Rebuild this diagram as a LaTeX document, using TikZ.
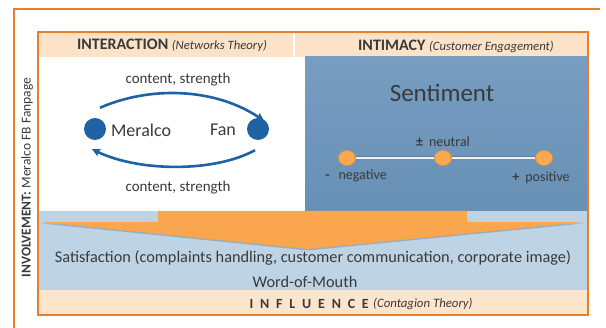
\documentclass[tikz,border=0pt]{standalone}
\usepackage{fontspec}
\setmainfont{Carlito}
\usetikzlibrary{arrows.meta,shapes.geometric}

\definecolor{frameorange}{HTML}{E67E2A}
\definecolor{headpeach}{HTML}{FCE3C7}
\definecolor{infpeach}{HTML}{FDE5CC}
\definecolor{paneltop}{HTML}{779EC1}
\definecolor{panelbottom}{HTML}{6890B5}
\definecolor{paleblue}{HTML}{BED4E4}
\definecolor{funnel}{HTML}{F9A64F}
\definecolor{dotfill}{HTML}{F9A94F}
\definecolor{dotedge}{HTML}{E8923A}
\definecolor{navy}{HTML}{1F62A4}
\definecolor{ink}{HTML}{3A3A3A}
\definecolor{railshade}{HTML}{5A7F9F}

\newcommand\fsz[1]{\fontsize{#1}{#1}\selectfont}

\begin{document}
\begin{tikzpicture}[x=1pt,y=-1pt,
  label/.style={text=ink,inner sep=0pt,anchor=center},
  member/.style={circle,fill=navy,minimum size=22pt,inner sep=0pt},
  flow/.style={navy,line width=2.6pt,-{Stealth[length=8pt,width=8pt,inset=1.5pt]}},
  knob/.style={ellipse,fill=dotfill,draw=dotedge,line width=0.6pt,minimum width=17pt,minimum height=15pt,inner sep=0pt},
  frame/.style={frameorange,line width=2.5pt}]

\useasboundingbox (0,0) rectangle (606,328);
\fill[white] (0,0) rectangle (606,328);

% open outer frame
\draw[frame,line width=2.3pt] (14,328) -- (14,9) -- (600,9);

% header cells
\fill[headpeach] (38,32) rectangle (293,57);
\fill[headpeach] (295,32) rectangle (588,57);

% sentiment panel
\shade[top color=paneltop,bottom color=panelbottom] (305,57) rectangle (588,211);

% lower bands
\fill[paleblue] (38,211) rectangle (588,290);
\fill[infpeach] (38,290) rectangle (588,315);

% funnel arrow with a soft shadow
\fill[black,opacity=0.18] (42,223.5) -- (583,223.5) -- (308,250.5) -- cycle;
\fill[funnel] (158,211) -- (467,211) -- (467,222) -- (583,222) -- (308,249)
  -- (42,222) -- (158,222) -- cycle;

% inner frame
\draw[frame] (38,32) rectangle (588,315);

% header titles
\node[label] (hint) at (172,45) {\fsz{16}\bfseries INTERACTION \fsz{12.7}\mdseries\itshape (Networks Theory)};
\node[label] (hintim) at (456,46) {\fsz{16}\bfseries INTIMACY \fsz{12.7}\mdseries\itshape (Customer Engagement)};

% side title
\node[label,rotate=90] (side) at (27,177.5) {\fsz{13.5}\bfseries INVOLVEMENT:\mdseries{} Meralco FB Fanpage};

% interaction network
\node[member] (meralco) at (95,129) {};
\node[member] (fan) at (258,129) {};
\node[label] (mtext) at (141,130) {\fsz{18}Meralco};
\node[label] (ftext) at (223,130) {\fsz{18}Fan};
\node[label] (ctop) at (178,80) {\fsz{15}content, strength};
\node[label] (cbot) at (178,188) {\fsz{15}content, strength};
\draw[flow] ([shift={(5,-10)}]meralco.north) .. controls +(50,-22) and +(-49,-33) .. ([shift={(6,3)}]fan.north);
\draw[flow] ([shift={(-3,10)}]fan.south) .. controls +(-40,22) and +(48,23) .. ([shift={(-3,9)}]meralco.south);

% sentiment scale
\node[label] (senti) at (442,93) {\fsz{25}Sentiment};
\node[knob] (neg) at (347,158) {};
\node[knob] (neu) at (443,158) {};
\node[knob] (pos) at (544,158) {};
\draw[railshade,line width=2pt] ([yshift=1.2pt]neg.east) -- ([yshift=1.2pt]neu.west);
\draw[railshade,line width=2pt] ([yshift=1.2pt]neu.east) -- ([yshift=1.2pt]pos.west);
\draw[white!94!black,line width=2pt] (neg) -- (neu);
\draw[white!94!black,line width=2pt] (neu) -- (pos);
\node[label] (neutxt) at (443,142) {\fsz{14}\bfseries±\mdseries\hspace{6pt}neutral};
\node[label] (negtxt) at (356,176) {\fsz{14}\bfseries-\mdseries\hspace{9pt}negative};
\node[label] (postxt) at (541,178) {\fsz{14}\bfseries+\mdseries\hspace{6pt}positive};

% influence section
\node[label] (satis) at (313,258) {\fsz{16.3}Satisfaction (complaints handling, customer communication, corporate image)};
\node[label] (wom) at (305,282) {\fsz{16.3}Word-of-Mouth};
\node[label,anchor=east] (infl) at (369,304) {\fsz{14}\bfseries\spaceskip=6.8pt I N F L U E N C E};
\node[label,anchor=west] (contag) at (373,304) {\fsz{12.8}\itshape (Contagion Theory)};
\end{tikzpicture}
\end{document}
